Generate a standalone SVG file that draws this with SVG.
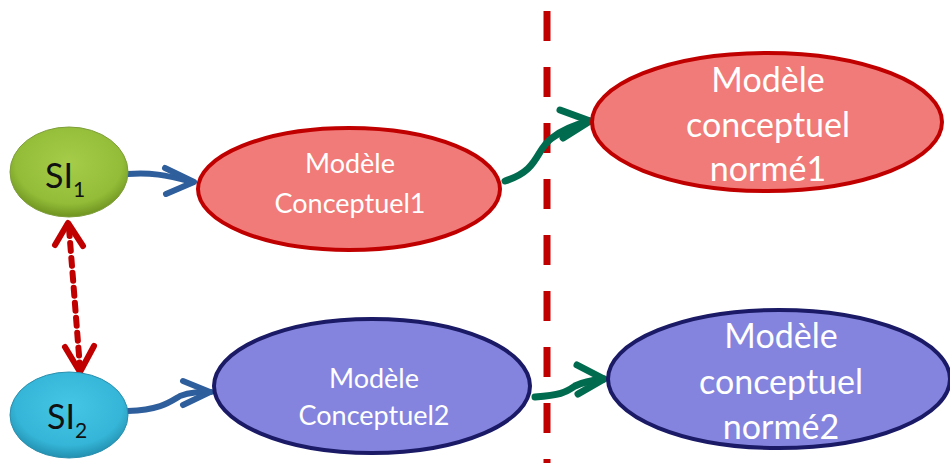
<svg xmlns="http://www.w3.org/2000/svg" width="950" height="463" viewBox="0 0 950 463">
<defs>
<radialGradient id="gGreen" cx="50%" cy="40%" r="60%">
<stop offset="0" stop-color="#A6CC4A"/>
<stop offset="0.75" stop-color="#93BD38"/>
<stop offset="1" stop-color="#6F9320"/>
</radialGradient>
<radialGradient id="gCyan" cx="50%" cy="40%" r="60%">
<stop offset="0" stop-color="#45C6E6"/>
<stop offset="0.75" stop-color="#35B6D8"/>
<stop offset="1" stop-color="#2390B0"/>
</radialGradient>
<style>
.lbl{font-family:Lato,"Open Sans","Liberation Sans",sans-serif;fill:#fff;text-anchor:middle}
.si{font-family:Lato,"Open Sans","Liberation Sans",sans-serif;fill:#111;font-size:34px}
.blue{fill:none;stroke:#2E5E9C;stroke-width:6;stroke-linecap:round;stroke-linejoin:round}
.green{fill:none;stroke:#006B4E;stroke-width:7;stroke-linecap:round;stroke-linejoin:round}
.red{fill:none;stroke:#C00000;stroke-width:6;stroke-linecap:round;stroke-linejoin:round}
</style>
</defs>
<line x1="547" y1="11" x2="547" y2="463" stroke="#C00000" stroke-width="7" stroke-dasharray="30 26"/>
<g id="connectors">
<path class="blue" d="M128,174 C150,172 165,175 193,182"/>
<path class="blue" d="M165,168 L194,182 L166,194"/>
<path class="blue" d="M128,411 C160,410 170,402 180,396 C190,392 200,392 211,392"/>
<path class="blue" d="M183,381 L210,392 L183,405"/>
<path class="green" d="M505,181 C540,170 535,150 552,138 C565,128 578,124 590,121"/>
<path class="green" d="M560,110 L590,121 L563,138"/>
<path class="green" d="M535,397 C560,395 565,393 575,386 C585,381 595,380 604,379"/>
<path class="green" d="M577,365 L604,379 L578,394"/>
<path class="red" d="M69,228 L80,368" stroke-dasharray="8 7" stroke-linecap="butt" stroke-width="7"/>
<path class="red" d="M55,245 L68,223 L83,246"/>
<path class="red" d="M65,347 L80,372 L94,346"/>
</g>
<g id="si1">
<ellipse cx="69" cy="172" rx="59" ry="45" fill="url(#gGreen)" stroke="#7E9E3A" stroke-width="1"/>
<text class="si" x="45" y="188">SI<tspan font-size="21" dy="9">1</tspan></text>
</g>
<g id="si2">
<ellipse cx="69" cy="415" rx="59" ry="43" fill="url(#gCyan)" stroke="#2A8FAE" stroke-width="1"/>
<text class="si" x="47" y="429">SI<tspan font-size="21" dy="9">2</tspan></text>
</g>
<g id="mc1">
<ellipse cx="349" cy="189" rx="151" ry="61" fill="#F07B78" stroke="#C00000" stroke-width="4"/>
<text class="lbl" font-size="27" x="350" y="173">Modèle</text>
<text class="lbl" font-size="27" x="350" y="213">Conceptuel1</text>
</g>
<g id="mc2">
<ellipse cx="372" cy="386" rx="158" ry="67" fill="#8484DE" stroke="#1A1A66" stroke-width="4"/>
<text class="lbl" font-size="27" x="374" y="388">Modèle</text>
<text class="lbl" font-size="27" x="374" y="425">Conceptuel2</text>
</g>
<g id="norme1">
<ellipse cx="767" cy="122" rx="175" ry="69" fill="#F07B78" stroke="#C00000" stroke-width="4"/>
<text class="lbl" font-size="34" x="768" y="92">Modèle</text>
<text class="lbl" font-size="34" x="768" y="137">conceptuel</text>
<text class="lbl" font-size="34" x="768" y="181">normé1</text>
</g>
<g id="norme2">
<ellipse cx="779" cy="379" rx="171" ry="69" fill="#8484DE" stroke="#1A1A66" stroke-width="4"/>
<text class="lbl" font-size="34" x="781" y="348">Modèle</text>
<text class="lbl" font-size="34" x="781" y="394">conceptuel</text>
<text class="lbl" font-size="34" x="781" y="439">normé2</text>
</g>
</svg>
